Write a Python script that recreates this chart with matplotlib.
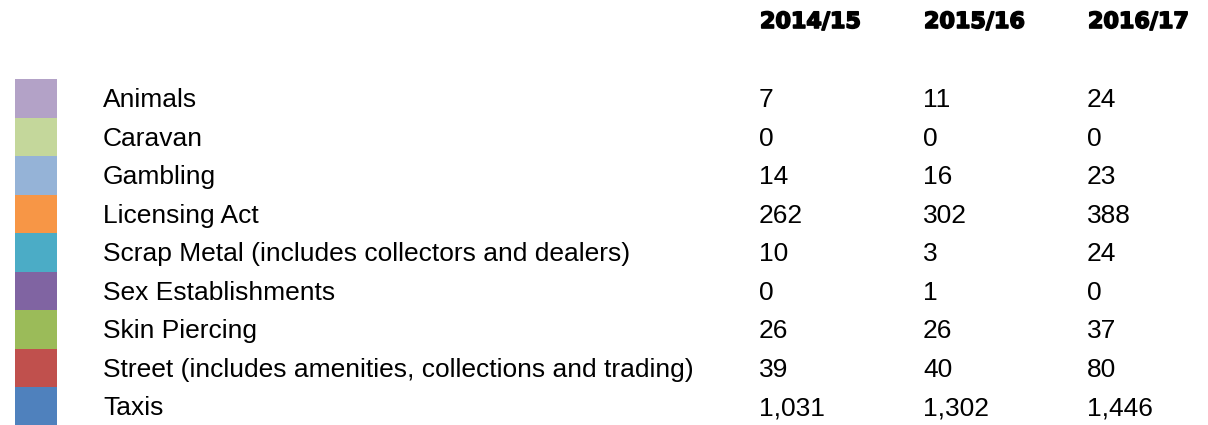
import matplotlib.pyplot as plt
import matplotlib.patheffects as pe

# Table data
categories = ["Animals", "Caravan", "Gambling", "Licensing Act",
              "Scrap Metal (includes collectors and dealers)", "Sex Establishments",
              "Skin Piercing", "Street (includes amenities, collections and trading)", "Taxis"]
years = ["2014/15", "2015/16", "2016/17"]
v_2014 = ["7", "0", "14", "262", "10", "0", "26", "39", "1,031"]
v_2015 = ["11", "0", "16", "302", "3", "1", "26", "40", "1,302"]
v_2016 = ["24", "0", "23", "388", "24", "0", "37", "80", "1,446"]
colors = ["#b3a2c7", "#c4d79b", "#95b3d7", "#f79646", "#4bacc6",
          "#8064a2", "#9bbb59", "#c0504d", "#4f81bd"]

W, H = 1208, 425
fig = plt.figure(figsize=(W / 100, H / 100), dpi=100)
ax = fig.add_axes([0, 0, 1, 1])
ax.set_xlim(0, W)
ax.set_ylim(H, 0)
ax.axis("off")

row_top = 79
row_h = 38.5
rows = [row_top + row_h * (i + 0.5) for i in range(len(categories))]

# colour swatches
ax.barh(rows, 42, left=15, height=row_h, color=colors, linewidth=0)

col_x = [759, 923, 1087]
for i, cat in enumerate(categories):
    y = rows[i] + 9
    ax.text(103, y, cat, fontsize=19, family="Liberation Sans", va="baseline", ha="left")
    for x, vals in zip(col_x, [v_2014, v_2015, v_2016]):
        ax.text(x, y, vals[i], fontsize=19, family="Liberation Sans", va="baseline", ha="left")

for x, yr in zip(col_x, years):
    ax.text(x + 1, 28, yr, fontsize=16, family="DejaVu Sans", fontweight="bold",
            va="baseline", ha="left",
            path_effects=[pe.withStroke(linewidth=1.2, foreground="black")])

fig.savefig("out.png", dpi=100)
